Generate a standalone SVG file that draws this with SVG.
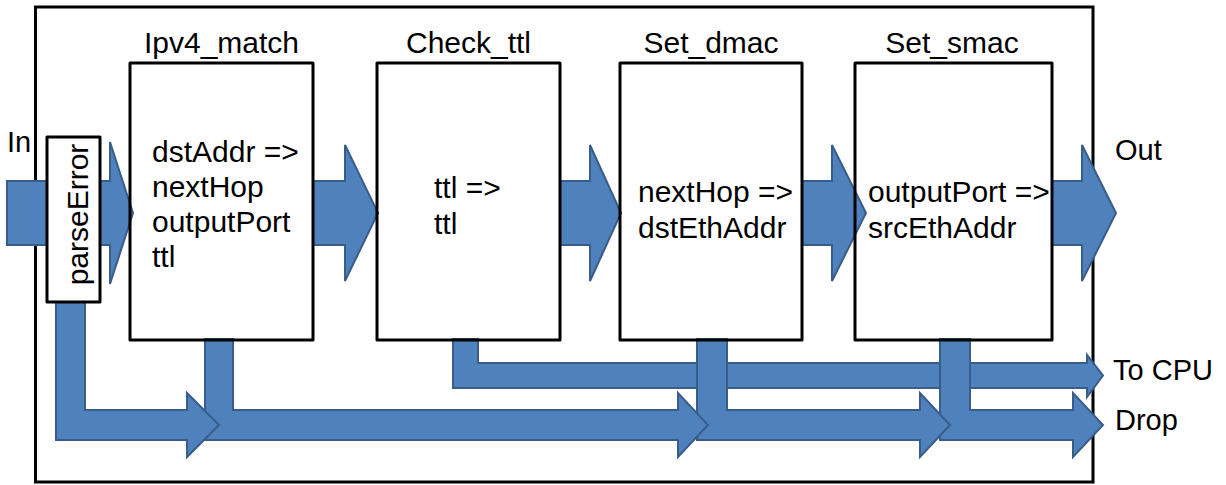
<svg xmlns="http://www.w3.org/2000/svg" width="1226" height="485" viewBox="0 0 1226 485">
<style>
.t{font-family:"Liberation Sans",Arial,sans-serif;font-size:30px;fill:#000}
.l{font-family:"Liberation Sans",Arial,sans-serif;font-size:29px;fill:#000}
.box{fill:none;stroke:#000;stroke-width:3;stroke-linejoin:round}
.arr{fill:#4F81BD;stroke:#385D8A;stroke-width:2;stroke-linejoin:miter}
</style>
<rect x="35.5" y="7" width="1057.5" height="475" fill="#fff" stroke="#000" stroke-width="3"/>
<g id="connectors">
  <path class="arr" d="M453,339 L478,339 L478,363 L1087,363 L1087,355 L1103,375.5 L1087,397 L1087,388 L453,388 Z"/>
  <path class="arr" d="M940,339 L970,339 L970,410 L1073,410 L1073,393 L1103,425 L1073,457 L1073,440 L940,440 Z"/>
  <path class="arr" d="M697,339 L727,339 L727,410 L920,410 L920,393 L950,425 L920,457 L920,440 L697,440 Z"/>
  <path class="arr" d="M205,339 L233,339 L233,410 L678,410 L678,393 L708,425 L678,457 L678,440 L205,440 Z"/>
  <path class="arr" d="M56,301 L85,301 L85,410 L187,410 L187,393 L219,425 L187,457 L187,440 L56,440 Z"/>
  <path class="arr" d="M7,181 L110,181 L110,142 L133,213 L110,284 L110,245 L7,245 Z"/>
  <path class="arr" d="M313,181 L345,181 L345,145 L378,213 L345,281 L345,245 L313,245 Z"/>
  <path class="arr" d="M560,181 L590,181 L590,145 L621,213 L590,281 L590,245 L560,245 Z"/>
  <path class="arr" d="M802,181 L832,181 L832,145 L866,213 L832,281 L832,245 L802,245 Z"/>
  <path class="arr" d="M1052,181 L1082,181 L1082,145 L1116,213 L1082,281 L1082,245 L1052,245 Z"/>
</g>
<g id="parseError">
  <rect x="47" y="137" width="53" height="165" fill="#fff" stroke="#000" stroke-width="3" stroke-linejoin="round"/>
  <text class="t" transform="translate(88,214.5) rotate(-90)" text-anchor="middle">parseError</text>
</g>
<g id="ipv4_match">
  <rect class="box" x="130" y="63" width="183" height="277"/>
  <text class="t" x="221.5" y="53" text-anchor="middle">Ipv4_match</text>
  <text class="t" x="152" y="162">dstAddr =&gt;</text>
  <text class="t" x="152" y="197">nextHop</text>
  <text class="t" x="152" y="232">outputPort</text>
  <text class="t" x="152" y="267">ttl</text>
</g>
<g id="check_ttl">
  <rect class="box" x="377" y="63" width="183" height="277"/>
  <text class="t" x="468.5" y="53" text-anchor="middle">Check_ttl</text>
  <text class="t" x="434" y="198">ttl =&gt;</text>
  <text class="t" x="434" y="234">ttl</text>
</g>
<g id="set_dmac">
  <rect class="box" x="620" y="63" width="182" height="277"/>
  <text class="t" x="711" y="53" text-anchor="middle">Set_dmac</text>
  <text class="t" x="638" y="202">nextHop =&gt;</text>
  <text class="t" x="638" y="238">dstEthAddr</text>
</g>
<g id="set_smac">
  <rect class="box" x="855" y="63" width="197" height="277"/>
  <text class="t" x="952" y="53" text-anchor="middle">Set_smac</text>
  <text class="t" x="868" y="202">outputPort =&gt;</text>
  <text class="t" x="868" y="238">srcEthAddr</text>
</g>
<g id="labels">
  <text class="l" x="7" y="152">In</text>
  <text class="l" x="1115" y="160">Out</text>
  <text class="l" x="1113" y="380">To CPU</text>
  <text class="l" x="1115" y="430">Drop</text>
</g>
</svg>
